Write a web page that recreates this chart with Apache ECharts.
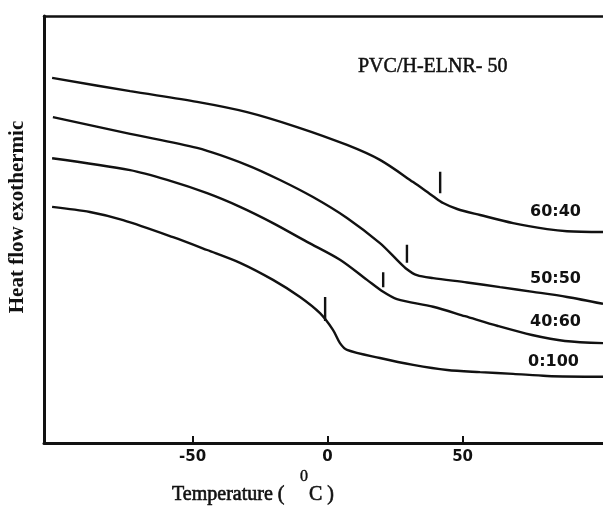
<!DOCTYPE html>
<html>
<head>
<meta charset="utf-8">
<script src="https://cdn.jsdelivr.net/npm/echarts@6/dist/echarts.min.js"></script>
<style>
html, body { margin: 0; background: #fff; }
#chart { width: 603px; height: 507px; }
</style>
</head>
<body>
<div id="chart"></div>
<script>
// blend ratios PVC : H-ELNR-50
var ratios = ['60:40', '50:50', '40:60', '0:100'];

// temperature (°C) and heat flow (arbitrary units)
var temp6040 = [-102, -73.1, -48.3, -29.8, -11.3, 7.2, 19.4, 31.7, 39.1, 42.8, 48.0, 56.5, 68.7, 81.3, 88.7, 102];
var heat6040 = [85.5, 82.4, 79.9, 77.5, 74.0, 69.8, 66.3, 61.1, 57.8, 56.2, 54.8, 53.4, 51.5, 50.1, 49.6, 49.4];

var temp5050 = [-101.7, -73.1, -48.3, -29.8, -17.6, -5.4, 7.2, 19.4, 25.7, 29.4, 33.1, 39.1, 51.7, 63.9, 76.1, 88.7, 102];
var heat5050 = [76.3, 72.4, 69.1, 65.1, 61.6, 57.6, 52.7, 46.8, 42.9, 40.7, 39.3, 38.6, 37.6, 36.5, 35.4, 34.2, 32.6];

var temp4060 = [-102, -73.1, -59.4, -44.6, -32.4, -20.2, -7.6, 4.6, 14.6, 20.6, 25.7, 39.1, 50.9, 63.1, 75.7, 87.9, 102];
var heat4060 = [66.7, 63.9, 61.6, 58.5, 55.3, 51.5, 47.1, 42.9, 38.2, 35.4, 33.7, 31.9, 29.7, 27.4, 25.3, 23.9, 23.4];

var temp0100 = [-102, -88.0, -75.7, -57.2, -44.6, -32.4, -20.2, -10.2, -2.8, 2.0, 4.6, 7.2, 19.4, 31.7, 44.3, 56.5, 68.7, 81.3, 102];
var heat0100 = [55.3, 54.1, 52.2, 48.2, 45.2, 42.2, 38.2, 34.2, 30.4, 26.5, 23.4, 21.8, 19.9, 18.3, 17.1, 16.6, 16.2, 15.7, 15.5];

// Tg markers (short vertical strokes)
var tgTemp = [41.7, 29.4, 20.6, -0.9];
var tgTop = [63.5, 46.4, 40.0, 34.2];
var tgBottom = [58.5, 42.2, 36.5, 28.6];

var xTicks = [-50, 0, 50];

var ink = '#111';
var chart = echarts.init(document.getElementById('chart'));

function zip(xs, ys) {
	var out = [];
	for (var i = 0; i < xs.length; i++) {
		out.push([xs[i], ys[i]]);
	}
	return out;
}

var curves = [
	[temp6040, heat6040],
	[temp5050, heat5050],
	[temp4060, heat4060],
	[temp0100, heat0100]
];

var series = [];
for (var i = 0; i < curves.length; i++) {
	series.push({
		name: ratios[i],
		type: 'line',
		data: zip(curves[i][0], curves[i][1]),
		smooth: 0.3,
		showSymbol: false,
		clip: false,
		lineStyle: { color: ink, width: 2.4 }
	});
}
for (var j = 0; j < tgTemp.length; j++) {
	series.push({
		name: 'Tg ' + ratios[j],
		type: 'line',
		data: [[tgTemp[j], tgTop[j]], [tgTemp[j], tgBottom[j]]],
		showSymbol: false,
		lineStyle: { color: ink, width: 2.4 }
	});
}

// ratio labels next to the curves
var labelY = [212, 279, 322, 362];
var graphics = [];
for (var k = 0; k < ratios.length; k++) {
	graphics.push({
		type: 'text',
		x: k == 3 ? 528 : 530,
		y: labelY[k],
		style: {
			text: ratios[k],
			font: 'bold 16px "DejaVu Sans"',
			fill: ink,
			textVerticalAlign: 'middle'
		}
	});
}
graphics.push({
	type: 'text', x: 358, y: 67,
	style: {
		text: 'PVC/H-ELNR- 50', font: '20px "Liberation Serif"', fill: ink,
		textVerticalAlign: 'middle', stroke: ink, lineWidth: 0.5
	}
});
graphics.push({
	type: 'text', x: 172, y: 495,
	style: {
		text: 'Temperature (', font: '20px "Liberation Serif"', fill: ink,
		textVerticalAlign: 'middle', stroke: ink, lineWidth: 0.6
	}
});
graphics.push({
	type: 'text', x: 300, y: 477,
	style: {
		text: '0', font: '16px "Liberation Serif"', fill: ink,
		textVerticalAlign: 'middle', stroke: ink, lineWidth: 0.4
	}
});
graphics.push({
	type: 'text', x: 309, y: 495,
	style: {
		text: 'C )', font: '20px "Liberation Serif"', fill: ink,
		textVerticalAlign: 'middle', stroke: ink, lineWidth: 0.6
	}
});
graphics.push({
	type: 'text', x: 18, y: 217, rotation: Math.PI / 2,
	style: {
		text: 'Heat flow exothermic', font: 'bold 21px "Liberation Serif"', fill: ink,
		textAlign: 'center', textVerticalAlign: 'middle'
	}
});

var option = {
	backgroundColor: '#fff',
	animation: false,
	grid: { left: 44, right: 0, top: 16, bottom: 64 },
	xAxis: [{
		type: 'value',
		min: -105,
		max: 102,
		axisLine: { onZero: false, lineStyle: { color: ink, width: 3 } },
		axisTick: {
			customValues: xTicks,
			inside: true,
			length: 7,
			lineStyle: { color: ink, width: 2 }
		},
		axisLabel: {
			customValues: xTicks,
			margin: 7,
			color: ink,
			fontFamily: 'DejaVu Sans',
			fontWeight: 'bold',
			fontSize: 15
		},
		splitLine: { show: false }
	}, {
		type: 'value',
		position: 'top',
		min: -105,
		max: 102,
		axisLine: { show: true, onZero: false, lineStyle: { color: ink, width: 2.5 } },
		axisTick: { show: false },
		axisLabel: { show: false },
		splitLine: { show: false }
	}],
	yAxis: {
		type: 'value',
		min: 0,
		max: 100,
		axisLine: { show: true, onZero: false, lineStyle: { color: ink, width: 3 } },
		axisTick: { show: false },
		axisLabel: { show: false },
		splitLine: { show: false }
	},
	graphic: graphics,
	series: series
};
chart.setOption(option);
</script>
</body>
</html>
